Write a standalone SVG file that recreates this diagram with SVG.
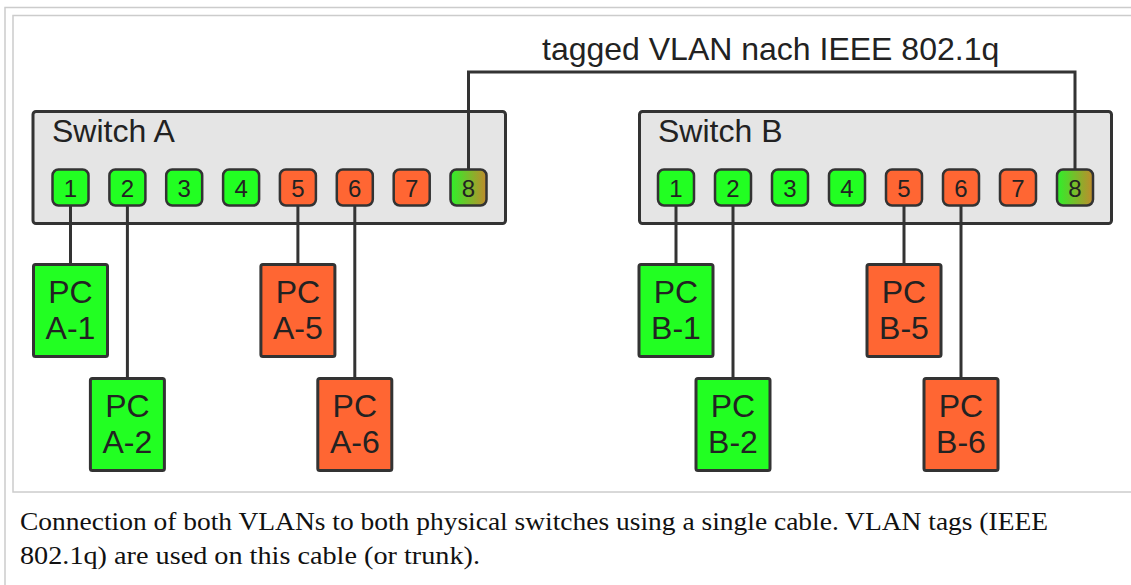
<svg xmlns="http://www.w3.org/2000/svg" width="1131" height="585" viewBox="0 0 1131 585">
  <defs>
    <linearGradient id="trunkPort" x1="0" y1="0" x2="1" y2="0">
      <stop offset="0" stop-color="#2ef02a"/>
      <stop offset="1" stop-color="#c08a2c"/>
    </linearGradient>
    <style>
      .frame { fill: none; stroke: #cccccc; stroke-width: 1.5; }
      .switch { fill: #e5e5e5; stroke: #333333; stroke-width: 3; }
      .port { stroke: #333333; stroke-width: 2.5; }
      .pc { stroke: #333333; stroke-width: 3; }
      .g { fill: #22ff22; }
      .o { fill: #ff6633; }
      .t { fill: url(#trunkPort); }
      .wire { fill: none; stroke: #333333; stroke-width: 3; }
      .lbl { font-family: "Liberation Sans", Arial, sans-serif; font-size: 32px; fill: #222222; }
      .num { font-family: "Liberation Sans", Arial, sans-serif; font-size: 24px; fill: #222222; text-anchor: middle; }
      .pct { font-family: "Liberation Sans", Arial, sans-serif; font-size: 32px; fill: #222222; text-anchor: middle; }
      .cap { font-family: "Liberation Serif", "Times New Roman", serif; font-size: 26px; fill: #111111; }
    </style>
  </defs>

  <rect width="1131" height="585" fill="#ffffff"/>

  <!-- thumbnail frame -->
  <path class="frame" d="M5,585 V7.5 H1140"/>
  <rect class="frame" x="13" y="15.5" width="1130" height="476.5"/>

  <!-- switch bodies -->
  <g id="switch-a">
    <rect class="switch" x="33" y="111.5" width="472.5" height="112" rx="3"/>
    <text class="lbl" x="52" y="142">Switch A</text>
  </g>
  <g id="switch-b">
    <rect class="switch" x="639.5" y="111.5" width="472" height="112" rx="3"/>
    <text class="lbl" x="658" y="142">Switch B</text>
  </g>

  <!-- cables -->
  <g id="connectors">
    <path class="wire" d="M468.5,170 V72 H1075 V170"/>
    <path class="wire" d="M70.5,205 V264"/>
    <path class="wire" d="M127.4,205 V378"/>
    <path class="wire" d="M297.9,205 V264"/>
    <path class="wire" d="M354.8,205 V378"/>
    <path class="wire" d="M676,205 V264"/>
    <path class="wire" d="M733,205 V378"/>
    <path class="wire" d="M904,205 V264"/>
    <path class="wire" d="M961,205 V378"/>
  </g>
  <text id="trunk-label" class="lbl" x="542" y="60">tagged VLAN nach IEEE 802.1q</text>

  <!-- ports of switch A -->
  <g id="ports-a">
    <rect class="port g" x="52.5" y="169.5" width="36" height="36" rx="6"/><text class="num" x="70.5" y="197">1</text>
    <rect class="port g" x="109.4" y="169.5" width="36" height="36" rx="6"/><text class="num" x="127.4" y="197">2</text>
    <rect class="port g" x="166.2" y="169.5" width="36" height="36" rx="6"/><text class="num" x="184.2" y="197">3</text>
    <rect class="port g" x="223.1" y="169.5" width="36" height="36" rx="6"/><text class="num" x="241.1" y="197">4</text>
    <rect class="port o" x="279.9" y="169.5" width="36" height="36" rx="6"/><text class="num" x="297.9" y="197">5</text>
    <rect class="port o" x="336.8" y="169.5" width="36" height="36" rx="6"/><text class="num" x="354.8" y="197">6</text>
    <rect class="port o" x="393.7" y="169.5" width="36" height="36" rx="6"/><text class="num" x="411.7" y="197">7</text>
    <rect class="port t" x="450.5" y="169.5" width="36" height="36" rx="6"/><text class="num" x="468.5" y="197">8</text>
  </g>

  <!-- ports of switch B -->
  <g id="ports-b">
    <rect class="port g" x="658" y="169.5" width="36" height="36" rx="6"/><text class="num" x="676" y="197">1</text>
    <rect class="port g" x="715" y="169.5" width="36" height="36" rx="6"/><text class="num" x="733" y="197">2</text>
    <rect class="port g" x="772" y="169.5" width="36" height="36" rx="6"/><text class="num" x="790" y="197">3</text>
    <rect class="port g" x="829" y="169.5" width="36" height="36" rx="6"/><text class="num" x="847" y="197">4</text>
    <rect class="port o" x="886" y="169.5" width="36" height="36" rx="6"/><text class="num" x="904" y="197">5</text>
    <rect class="port o" x="943" y="169.5" width="36" height="36" rx="6"/><text class="num" x="961" y="197">6</text>
    <rect class="port o" x="1000" y="169.5" width="36" height="36" rx="6"/><text class="num" x="1018" y="197">7</text>
    <rect class="port t" x="1057" y="169.5" width="36" height="36" rx="6"/><text class="num" x="1075" y="197">8</text>
  </g>

  <!-- computers -->
  <g id="pc-a1"><rect class="pc g" x="33.5" y="264.5" width="74" height="92" rx="2"/><text class="pct" x="70.5" y="303">PC</text><text class="pct" x="70.5" y="339">A-1</text></g>
  <g id="pc-a2"><rect class="pc g" x="90.4" y="378.5" width="74" height="92" rx="2"/><text class="pct" x="127.4" y="417">PC</text><text class="pct" x="127.4" y="453">A-2</text></g>
  <g id="pc-a5"><rect class="pc o" x="260.9" y="264.5" width="74" height="92" rx="2"/><text class="pct" x="297.9" y="303">PC</text><text class="pct" x="297.9" y="339">A-5</text></g>
  <g id="pc-a6"><rect class="pc o" x="317.8" y="378.5" width="74" height="92" rx="2"/><text class="pct" x="354.8" y="417">PC</text><text class="pct" x="354.8" y="453">A-6</text></g>
  <g id="pc-b1"><rect class="pc g" x="639" y="264.5" width="74" height="92" rx="2"/><text class="pct" x="676" y="303">PC</text><text class="pct" x="676" y="339">B-1</text></g>
  <g id="pc-b2"><rect class="pc g" x="696" y="378.5" width="74" height="92" rx="2"/><text class="pct" x="733" y="417">PC</text><text class="pct" x="733" y="453">B-2</text></g>
  <g id="pc-b5"><rect class="pc o" x="867" y="264.5" width="74" height="92" rx="2"/><text class="pct" x="904" y="303">PC</text><text class="pct" x="904" y="339">B-5</text></g>
  <g id="pc-b6"><rect class="pc o" x="924" y="378.5" width="74" height="92" rx="2"/><text class="pct" x="961" y="417">PC</text><text class="pct" x="961" y="453">B-6</text></g>

  <!-- caption -->
  <text class="cap" x="20" y="530" textLength="1028" lengthAdjust="spacingAndGlyphs">Connection of both VLANs to both physical switches using a single cable. VLAN tags (IEEE</text>
  <text class="cap" x="20" y="564" textLength="460" lengthAdjust="spacingAndGlyphs">802.1q) are used on this cable (or trunk).</text>
</svg>
